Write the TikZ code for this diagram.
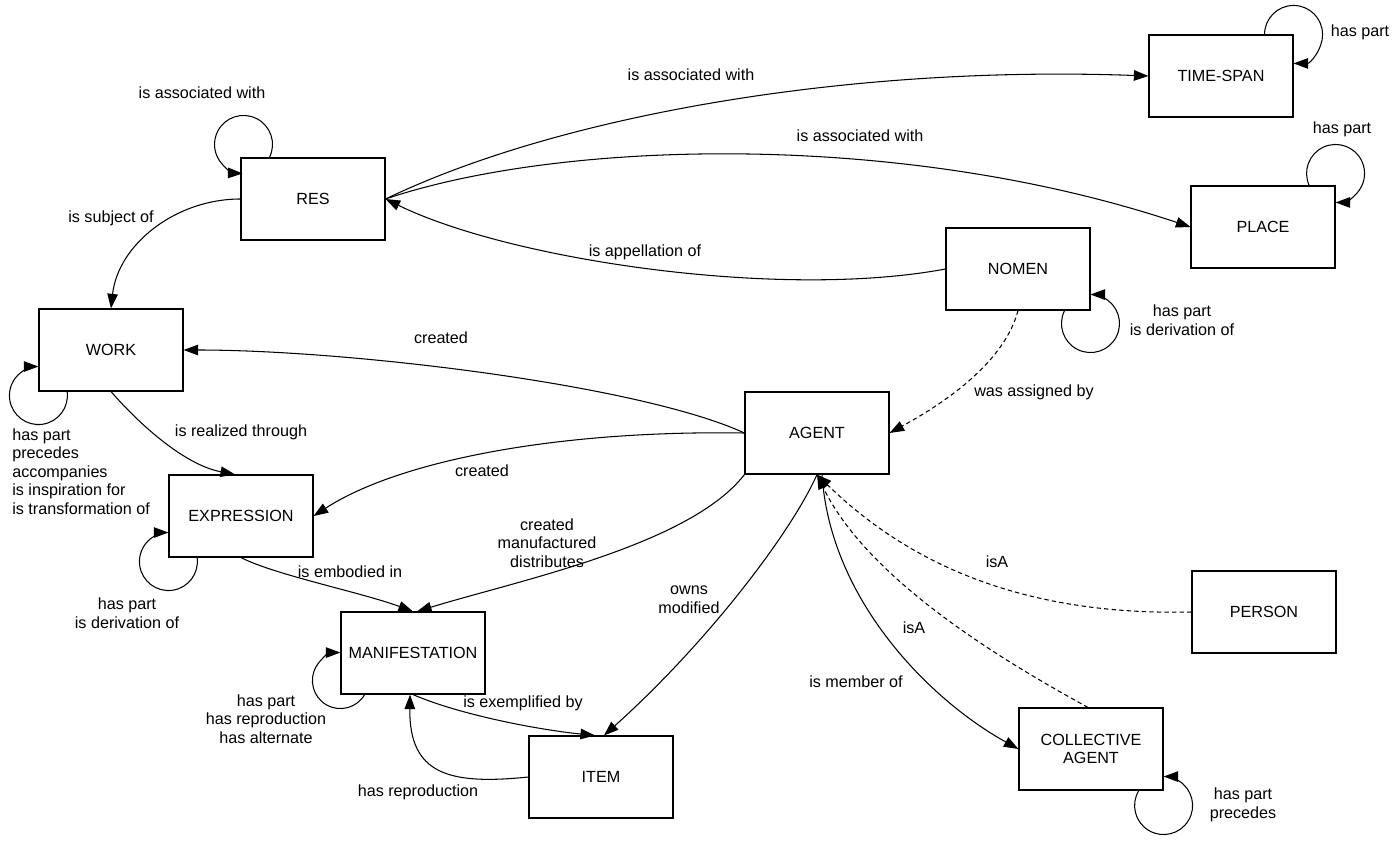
\documentclass[tikz,border=0pt]{standalone}
\usepackage{fontspec}
\setmainfont{Liberation Sans}
\usetikzlibrary{arrows.meta,calc}
\newcommand{\diagfont}{\fontsize{9.2}{10.6}\selectfont}
\begin{document}
\begin{tikzpicture}[x=0.02cm,y=-0.02cm,
  box/.style={draw, line width=0.65pt, minimum width=2.88cm, minimum height=1.64cm, inner sep=0pt, align=center, font=\diagfont},
  lbl/.style={inner sep=0pt, align=center, font=\diagfont},
  rel/.style={line width=0.6pt, -{Triangle[length=8.3pt,width=6pt]}},
  isa/.style={rel, dash pattern=on 2.5pt off 1.8pt}]
\useasboundingbox (0,0) rectangle (1398,844);
% boxes
\node[box] (ts) at (1221,76) {TIME-SPAN};
\node[box] (place) at (1263,227) {PLACE};
\node[box] (res) at (313,199) {RES};
\node[box] (nomen) at (1018,269) {NOMEN};
\node[box] (work) at (111,350) {WORK};
\node[box] (agent) at (817,433) {AGENT};
\node[box] (expr) at (241,516) {EXPRESSION};
\node[box] (manif) at (413,653) {MANIFESTATION};
\node[box] (person) at (1264,612) {PERSON};
\node[box] (item) at (601,777) {ITEM};
\node[box] (coll) at (1091,749) {COLLECTIVE\\AGENT};
% self loops
\draw[rel] ($(res.north west)+(29,0)$) arc[start angle=-26.6, end angle=268, radius=0.58cm];
\draw[rel] ($(work.south west)+(28.7,0)$) arc[start angle=7.9, end angle=-270, radius=0.58cm];
\draw[rel] ($(expr.south west)+(28.7,0)$) arc[start angle=7.9, end angle=-270, radius=0.58cm];
\draw[rel] ($(manif.south west)+(24.2,0)$) arc[start angle=-30, end angle=-270, radius=0.56cm];
\draw[rel] ($(nomen.south east)+(-26,0)$) arc[start angle=153.4, end angle=450, radius=0.58cm];
\draw[rel] ($(ts.north east)+(-29,0)$) arc[start angle=180, end angle=-90, radius=0.58cm];
\draw[rel] ($(place.north east)+(-26.4,0)$) arc[start angle=204.4, end angle=-90, radius=0.58cm];
\draw[rel] ($(coll.south east)+(-24.8,0)$) arc[start angle=148.9, end angle=450, radius=0.58cm];
% relations
\draw[rel] (res.west) .. controls (175,199) and (118,245) .. (work.north);
\draw[rel] (res.east) .. controls (560,115) and (850,65) .. (ts.west);
\draw[rel] (res.east) .. controls (560,140) and (900,130) .. (place.west);
\draw[rel] (nomen.west) .. controls (780,300) and (510,260) .. (res.east);
\draw[rel] (agent.west) .. controls (640,385) and (350,350) .. (work.east);
\draw[rel] (agent.west) .. controls (560,430) and (400,460) .. (expr.east);
\draw[rel] (agent.south west) .. controls (690,545) and (520,580) .. ([xshift=0.08cm]manif.north);
\draw[rel] (work.south) .. controls (140,425) and (185,465) .. ([xshift=-0.12cm]expr.north);
\draw[rel] (expr.south) .. controls (275,575) and (360,592) .. (manif.north);
\draw[rel] (manif.south) .. controls (460,715) and (540,730) .. ([xshift=-0.12cm]item.north);
\draw[rel] (item.west) .. controls (450,785) and (409,775) .. ([xshift=-0.06cm]manif.south);
\draw[rel] (agent.south) .. controls (790,535) and (705,645) .. ([xshift=0.06cm]item.north);
\draw[isa] (nomen.south) .. controls (1005,360) and (950,400) .. (agent.east);
\draw[isa] (person.west) .. controls (1060,615) and (930,585) .. (agent.south);
\draw[isa] ([xshift=-0.06cm]coll.north) .. controls (1020,670) and (870,585) .. (agent.south);
\draw[rel] ([xshift=0.1cm]agent.south) .. controls (830,600) and (930,700) .. (coll.west);
% labels
\node[lbl] (l1) at (202,93) {is associated with};
\node[lbl] (l2) at (111,218) {is subject of};
\node[lbl] (l3) at (691,75) {is associated with};
\node[lbl] (l4) at (860,136) {is associated with};
\node[lbl] (l5) at (645,252) {is appellation of};
\node[lbl] (l6) at (1360,32) {has part};
\node[lbl] (l7) at (1342,129) {has part};
\node[lbl] (l8) at (1182,320) {has part\\is derivation of};
\node[lbl] (l9) at (1034,392) {was assigned by};
\node[lbl] (l10) at (441,338) {created};
\node[lbl] (l11) at (482,471) {created};
\node[lbl] (l12) at (547,543) {created\\manufactured\\distributes};
\node[lbl] (l13) at (241,432) {is realized through};
\node[lbl,anchor=west,align=left] (l14) at (12,471.5) {has part\\precedes\\accompanies\\is inspiration for\\is transformation of};
\node[lbl] (l15) at (350,572) {is embodied in};
\node[lbl] (l16) at (127,613) {has part\\is derivation of};
\node[lbl] (l17) at (266,719) {has part\\has reproduction\\has alternate};
\node[lbl] (l18) at (523,703) {is exemplified by};
\node[lbl] (l19) at (418,792) {has reproduction};
\node[lbl] (l20) at (689,600) {owns\\modified};
\node[lbl] (l21) at (997,562) {isA};
\node[lbl] (l22) at (914,628) {isA};
\node[lbl] (l23) at (856,682) {is member of};
\node[lbl] (l24) at (1243,805) {has part\\precedes};
\end{tikzpicture}
\end{document}
